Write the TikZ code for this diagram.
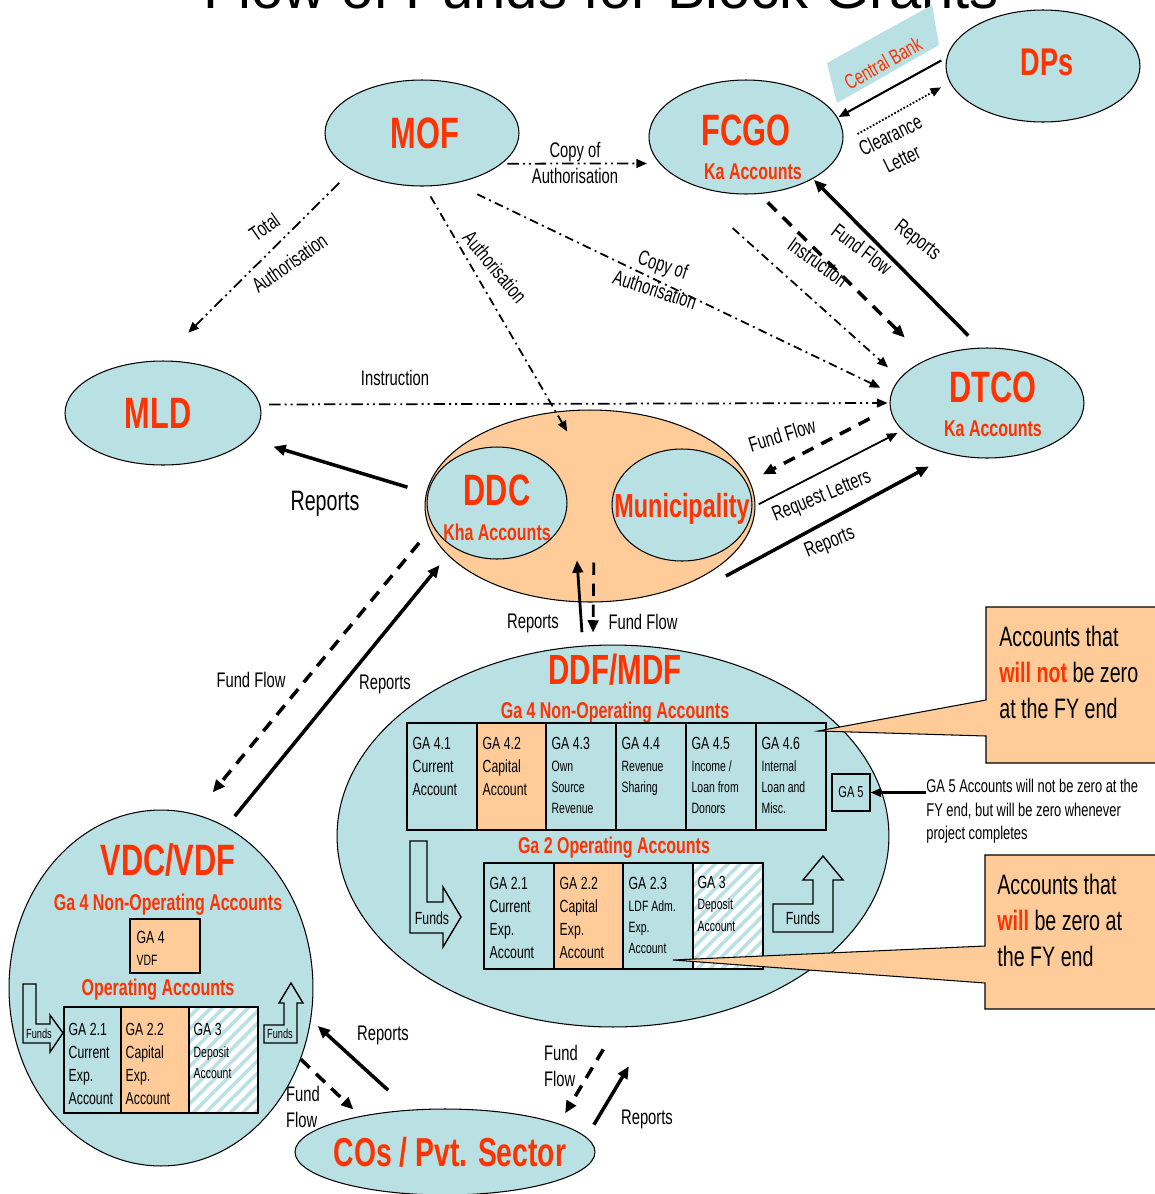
\documentclass[tikz,border=0pt]{standalone}
\usepackage{fontspec}
\setmainfont{Liberation Sans}[FakeStretch=0.7]
\newfontfamily\titlefont{Liberation Sans}
\usetikzlibrary{shapes.geometric,arrows.meta,calc,patterns.meta}
\definecolor{ovalblue}{RGB}{185,224,227}
\definecolor{peach}{RGB}{255,204,153}
\definecolor{fundred}{RGB}{255,51,0}
\newcommand\smallac{\fontsize{8.5}{12}\selectfont}

\begin{document}
\begin{tikzpicture}[x=0.02cm, y=-0.02cm,
  oval/.style={draw, ellipse, fill=ovalblue, line width=0.6pt, inner sep=0pt},
  bigname/.style={text=fundred, font=\bfseries\fontsize{25}{28}\selectfont, inner sep=0pt},
  subname/.style={text=fundred, font=\bfseries\fontsize{13}{15}\selectfont, inner sep=0pt},
  cell/.style={draw, fill=ovalblue, line width=0.8pt, inner sep=0pt, minimum height=2.14cm},
  capcell/.style={cell, fill=peach},
  depcell/.style={draw, line width=0.8pt, inner sep=0pt, minimum height=2.14cm, preaction={fill=white}, pattern={Lines[angle=45,distance=5pt,line width=2pt]}, pattern color=ovalblue},
  celltext/.style={anchor=north west, align=left, inner sep=0pt, font=\fontsize{10}{13}\selectfont},
  smallcelltext/.style={celltext, font=\fontsize{10}{12}\selectfont},
  calltext/.style={anchor=north west, align=left, inner sep=0pt, font=\fontsize{16}{20.4}\selectfont},
  lbl/.style={font=\fontsize{12}{15}\selectfont, inner sep=0pt, align=center},
  fundflow/.style={line width=2pt, dash pattern=on 7pt off 5pt, -{Triangle[length=7pt,width=6pt]}},
  report/.style={line width=2pt, -{Triangle[length=7pt,width=6pt]}},
  instr/.style={line width=1pt, dash pattern=on 6.5pt off 2.3pt on 1.1pt off 2.3pt on 1.1pt off 2.3pt, -{Triangle[length=6pt,width=5pt]}},
  auth/.style={line width=1pt, dash pattern=on 5pt off 2.5pt on 1.1pt off 2.5pt, -{Triangle[length=6pt,width=5pt]}},
  callout/.style={draw, fill=peach, line width=0.6pt},
  fundsarrow/.style={draw, fill=ovalblue, line width=0.8pt}
]
  \useasboundingbox (0,0) rectangle (1155,1194);
  \clip (0,0) rectangle (1155,1194);

  \node[font={\titlefont\fontsize{33}{40}\selectfont}, anchor=base, inner sep=0pt] (title) at (601,8) {Flow of Funds for Block Grants};

  \fill[ovalblue] (827,63) -- (932,5) -- (939,45) -- (837,103) -- cycle;

  \node[oval, minimum width=3.88cm, minimum height=2.12cm] (mof) at (422,133) {};
  \node[oval, minimum width=3.88cm, minimum height=2.28cm] (fcgo) at (746,137) {};
  \node[oval, minimum width=3.88cm, minimum height=2.24cm] (dps) at (1043,66) {};
  \node[oval, minimum width=3.92cm, minimum height=2.08cm] (mld) at (163,413) {};
  \node[oval, minimum width=3.88cm, minimum height=2.2cm] (dtco) at (987,403) {};
  \node[oval, fill=peach, minimum width=6.6cm, minimum height=3.84cm] (dist) at (590,506) {};
  \node[oval, minimum width=2.8cm, minimum height=2.24cm] (ddc) at (497,503) {};
  \node[oval, minimum width=2.8cm, minimum height=2.24cm] (muni) at (682,505) {};
  \node[oval, minimum width=11.04cm, minimum height=7.64cm] (ddf) at (613,836) {};
  \node[oval, minimum width=6.08cm, minimum height=7.12cm] (vdc) at (161,988) {};
  \node[oval, minimum width=6cm, minimum height=1.72cm] (cos) at (445,1152) {};

  \node[bigname] (moft) at (425,133) {MOF};
  \node[bigname] (fcgot) at (746,130) {FCGO};
  \node[subname] (fcgoka) at (753,172) {Ka Accounts};
  \node[bigname, font=\bfseries\fontsize{22}{26}\selectfont] (dpst) at (1047,62) {DPs};
  \node[bigname] (mldt) at (158,413) {MLD};
  \node[bigname] (dtcot) at (993,387) {DTCO};
  \node[subname] (dtcoka) at (993,429) {Ka Accounts};
  \node[bigname] (ddct) at (497,490) {DDC};
  \node[subname] (ddckha) at (497,532) {Kha Accounts};
  \node[bigname, font=\bfseries\fontsize{19}{22}\selectfont] (munit) at (682,509) {Municipality};
  \node[bigname, font=\bfseries\fontsize{23}{26}\selectfont] (cost) at (450,1152) {COs / Pvt. Sector};

  \node[bigname, font=\bfseries\fontsize{24}{28}\selectfont] (ddft) at (615,670) {DDF/MDF};
  \node[subname] (ddfga4) at (615,713) {Ga 4 Non-Operating Accounts};
  \node[cell, minimum width=1.4cm] (g41) at (442,776.5) {};
  \node[capcell, minimum width=1.4cm] (g42) at (512,776.5) {};
  \node[cell, minimum width=1.4cm] (g43) at (581,776.5) {};
  \node[cell, minimum width=1.4cm] (g44) at (651,776.5) {};
  \node[cell, minimum width=1.4cm] (g45) at (721,776.5) {};
  \node[cell, minimum width=1.4cm] (g46) at (791,776.5) {};
  \node[celltext] (g41t) at ($(g41.north west)+(6,15)$) {GA 4.1\\Current\\Account};
  \node[celltext] (g42t) at ($(g42.north west)+(6,15)$) {GA 4.2\\Capital\\Account};
  \node[smallcelltext] (g43t) at ($(g43.north west)+(6,15)$) {GA 4.3\\\smallac Own\\\smallac Source\\\smallac Revenue};
  \node[smallcelltext] (g44t) at ($(g44.north west)+(6,15)$) {GA 4.4\\\smallac Revenue\\\smallac Sharing};
  \node[smallcelltext] (g45t) at ($(g45.north west)+(6,15)$) {GA 4.5\\\smallac Income /\\\smallac Loan from\\\smallac Donors};
  \node[smallcelltext] (g46t) at ($(g46.north west)+(6,15)$) {GA 4.6\\\smallac Internal\\\smallac Loan and\\\smallac Misc.};
  \node[cell, minimum width=0.76cm, minimum height=0.74cm, font=\fontsize{9}{11}\selectfont] (ga5) at (851,792.5) {GA 5};

  \node[subname] (ddfga2) at (614,848) {Ga 2 Operating Accounts};
  \node[cell, minimum width=1.4cm, minimum height=2.12cm] (g21) at (519,916) {};
  \node[capcell, minimum width=1.4cm, minimum height=2.12cm] (g22) at (589,916) {};
  \node[cell, minimum width=1.4cm, minimum height=2.12cm] (g23) at (658,916) {};
  \node[depcell, minimum width=1.4cm, minimum height=2.12cm] (g3) at (728,916) {};
  \node[celltext] (g21t) at ($(g21.north west)+(6,15)$) {GA 2.1\\Current\\Exp.\\Account};
  \node[celltext] (g22t) at ($(g22.north west)+(6,15)$) {GA 2.2\\Capital\\Exp.\\Account};
  \node[smallcelltext] (g23t) at ($(g23.north west)+(6,15)$) {GA 2.3\\\smallac LDF Adm.\\\smallac Exp.\\\smallac Account};
  \node[smallcelltext] (g3t) at ($(g3.north west)+(6,15)$) {GA 3\\\smallac Deposit\\\smallac Account};

  \draw[fundsarrow] (410,841) -- (427,841) -- (427,902) -- (443,902) -- (443,887) -- (461,917) -- (443,947) -- (443,933) -- (410,933) -- cycle;
  \node[font=\fontsize{10}{12}\selectfont, inner sep=0pt] (fundsin) at (432,918) {Funds};
  \draw[fundsarrow] (773,932) -- (773,904) -- (813,904) -- (813,880) -- (803,880) -- (823,856) -- (843,880) -- (833,880) -- (833,932) -- cycle;
  \node[font=\fontsize{10}{12}\selectfont, inner sep=0pt] (fundsout) at (803,918) {Funds};

  \node[bigname] (vdct) at (168,860) {VDC/VDF};
  \node[subname] (vdcga4) at (168,905) {Ga 4 Non-Operating Accounts};
  \node[capcell, minimum width=1.4cm, minimum height=1.08cm] (vga4) at (165,946) {};
  \node[smallcelltext] (vga4t) at ($(vga4.north west)+(7,13)$) {GA 4\\\smallac VDF};
  \node[subname] (vdcop) at (158,990) {Operating Accounts};
  \node[cell, minimum width=1.14cm, minimum height=2.12cm] (v21) at (92.5,1060) {};
  \node[capcell, minimum width=1.36cm, minimum height=2.12cm] (v22) at (155,1060) {};
  \node[depcell, minimum width=1.38cm, minimum height=2.12cm] (v3) at (223.5,1060) {};
  \node[celltext] (v21t) at ($(v21.north west)+(5,17)$) {GA 2.1\\Current\\Exp.\\Account};
  \node[celltext] (v22t) at ($(v22.north west)+(5,17)$) {GA 2.2\\Capital\\Exp.\\Account};
  \node[smallcelltext] (v3t) at ($(v3.north west)+(5,17)$) {GA 3\\\smallac Deposit\\\smallac Account};
  \draw[fundsarrow] (23,984) -- (36,984) -- (36,1024) -- (50,1024) -- (50,1015) -- (63,1033) -- (50,1052) -- (50,1043) -- (23,1043) -- cycle;
  \node[font=\fontsize{7.5}{9}\selectfont, inner sep=0pt] (vfundsin) at (39,1034) {Funds};
  \draw[fundsarrow] (264,1043) -- (264,1025) -- (284,1025) -- (284,1003) -- (279,1003) -- (291,983) -- (303,1003) -- (297,1003) -- (297,1043) -- cycle;
  \node[font=\fontsize{7.5}{9}\selectfont, inner sep=0pt] (vfundsout) at (280,1034) {Funds};

  \draw[callout] (986,607) -- (1160,607) -- (1160,763) -- (986,763) -- (986,736) -- (818,731) -- (986,700) -- cycle;
  \node[calltext] (calltop) at (999,626) {Accounts that\\\textcolor{fundred}{\bfseries will not} be zero\\at the FY end};
  \draw[callout] (985,855) -- (1160,855) -- (1160,1009) -- (985,1009) -- (985,983) -- (673,960) -- (985,946) -- cycle;
  \node[calltext] (callbot) at (997,874) {Accounts that\\\textcolor{fundred}{\bfseries will} be zero at\\the FY end};

  \node[anchor=north west, align=left, inner sep=0pt, font=\fontsize{10.5}{13.3}\selectfont] (ga5note) at (926,779) {GA 5 Accounts will not be zero at the\\FY end, but will be zero whenever\\project completes};
  \draw[line width=1.2pt, -{Triangle[length=6pt,width=5pt]}] (ga5note.west |- ga5.east) -- (ga5.east);

  \draw[line width=1.2pt, -{Triangle[length=6pt,width=5pt]}, shorten <=0.12cm, shorten >=0.02cm] (dps.175) -- (fcgo.12);
  \draw[line width=1pt, densely dotted, -{Triangle[length=6pt,width=5pt]}, shorten <=0.33cm, shorten >=0.2cm] (fcgo.-3.6) -- (dps.190.6);
  \draw[instr, shorten <=0.11cm, shorten >=0.25cm] (mof.-21.5) -- (fcgo.197.5);
  \draw[instr, shorten <=0.36cm, shorten >=0.79cm] (mof.208.3) -- (mld.93.3);
  \draw[auth, shorten <=0.23cm, shorten >=-0.46cm] (mof.-87.6) -- (dist.110.2);
  \draw[auth, shorten <=0.5cm, shorten >=0.24cm] (mof.-57.2) -- (dtco.174.9);
  \draw[instr, shorten <=0.18cm, shorten >=0.04cm] (mld.5.9) -- (dtco.180);
  \draw[auth, shorten <=1.55cm, shorten >=0.32cm] (fcgo.209.1) -- (dtco.164.4);
  \draw[fundflow, shorten <=0.24cm, shorten >=0.62cm] (fcgo.-77.7) -- (dtco.144.2);
  \draw[report, shorten <=0.34cm, shorten >=0.03cm] (dtco.97.4) -- (fcgo.-32.4);
  \draw[fundflow, shorten <=0.46cm, shorten >=0.36cm] (dtco.183.3) -- (muni.19.7);
  \draw[line width=1pt, -{Triangle[length=6pt,width=5pt]}, shorten <=0.14cm, shorten >=0.11cm] (muni.-2.5) -- (dtco.198);
  \coordinate (distrep) at (726,576);
  \draw[report, shorten >=0.5cm] (distrep) -- (dtco.235.8);
  \draw[report, shorten <=0.42cm, shorten >=0.52cm] (ddc.172.7) -- (mld.-17.4);
  \draw[report, line width=1.6pt, shorten <=0.27cm, shorten >=-0.84cm] (ddf.99.6) -- (dist.264.6);
  \draw[fundflow, line width=1.6pt, shorten <=-0.8cm, shorten >=0.25cm] (dist.-88.2) -- (ddf.96);
  \draw[fundflow, shorten <=0.43cm, shorten >=0.56cm] (ddc.200.5) -- (vdc.79.2);
  \draw[report, shorten <=0.27cm, shorten >=0.45cm] (vdc.68.6) -- (ddc.226.3);
  \draw[fundflow, shorten >=0.19cm] (vdc.-27.4) -- (cos.157);
  \draw[report, shorten <=0.58cm, shorten >=0.18cm] (cos.130.3) -- (vdc.-12.8);
  \draw[fundflow, shorten <=0.51cm, shorten >=0.24cm] (ddf.-89.3) -- (cos.14.4);
  \draw[report, shorten <=0.29cm, shorten >=0.95cm] (cos.6.5) -- (ddf.-78.4);

  \node[lbl, text=fundred, rotate=29.6] (cbank) at (883,63) {Central Bank};
  \node[lbl, rotate=26] (clear) at (896,147) {Clearance\\Letter};
  \node[lbl] (copyfc) at (575,163) {Copy of\\Authorisation};
  \node[lbl, rotate=35] (totauth) at (277,245) {Total\\[10pt]Authorisation};
  \node[lbl, rotate=-50] (authddc) at (495,267) {Authorisation};
  \node[lbl, rotate=-18] (copydt) at (659,277) {Copy of\\Authorisation};
  \node[lbl] (instmld) at (395,378) {Instruction};
  \node[lbl, rotate=-36] (instdt) at (818,262) {Instruction};
  \node[lbl, rotate=-37] (ffdt) at (862,249) {Fund Flow};
  \node[lbl, rotate=-37] (repfc) at (917,241) {Reports};
  \node[lbl, rotate=17] (ffmuni) at (782,435) {Fund Flow};
  \node[lbl, rotate=22] (reqlet) at (822,497) {Request Letters};
  \node[lbl, rotate=22] (repdt) at (830,543) {Reports};
  \node[lbl, font=\fontsize{16}{19}\selectfont] (repmld) at (325,504) {Reports};
  \node[lbl] (repddf) at (533,623) {Reports};
  \node[lbl] (ffddf) at (643,622) {Fund Flow};
  \node[lbl] (ffvdc) at (251,680) {Fund Flow};
  \node[lbl] (repvdc) at (385,684) {Reports};
  \node[lbl] (repcos) at (383,1035) {Reports};
  \node[lbl, align=left] (ffcos) at (303,1107) {Fund\\Flow};
  \node[lbl, align=left] (ffcos2) at (561,1066) {Fund\\Flow};
  \node[lbl] (repcos2) at (647,1119) {Reports};
\end{tikzpicture}
\end{document}
